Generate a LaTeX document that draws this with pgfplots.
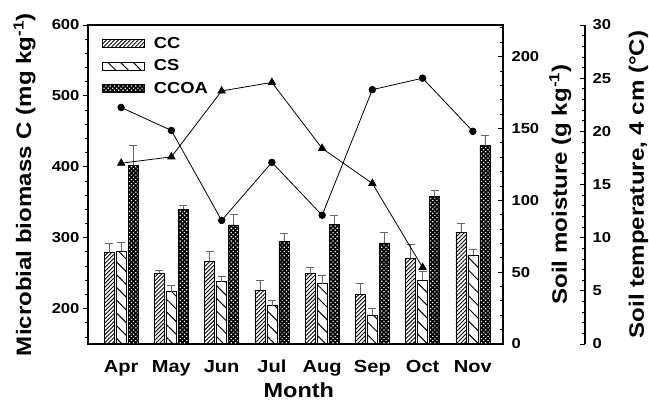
\documentclass[border=0pt]{standalone}
\usepackage{fontspec}
\setmainfont{Liberation Sans}[FakeStretch=1.15]
\usepackage{pgfplots}
\pgfplotsset{compat=1.18}
\usepackage{pgfplotstable}
\usetikzlibrary{patterns,patterns.meta}

\pgfplotstableread{
x cc ccerr cs cserr ccoa ccoaerr
0 279   13.5 281 13   402   28
1 250   4    224 8.5  340   5.7
2 266.5 13.5 238 7    318   14.5
3 226   14   204 8    295   11
4 250   8    235 11.6 319   13
5 220   16   191 9.5  292.5 14.5
6 271   20   240 13   358   8.5
7 307.5 12.5 275 9    430   14
}\bars
\pgfplotstableread{
x m
0 164.6
1 148.6
2 86
3 126.4
4 89.6
5 177
6 185
7 148
}\moist
\pgfplotstableread{
x t
0 17.0
1 17.6
2 23.8
3 24.6
4 18.4
5 15.1
6 7.2
}\temp

\newcommand{\tickfont}{\bfseries\fontsize{14.5}{16}\selectfont}
\newcommand{\labfont}{\bfseries\fontsize{21}{24}\selectfont}

\begin{document}
\begin{tikzpicture}
\useasboundingbox (-88bp,-56bp) rectangle (561bp,344bp);
\pgfplotsset{
  base/.style={scale only axis, width=415bp, height=319bp,
    xmin=-0.66, xmax=7.6,
    /pgf/number format/assume math mode=true,
    axis line style={line width=1.4bp},
    every tick/.style={black, line width=0.8bp},
    major tick length=5bp, minor tick length=3bp,
    yticklabel style={font=\tickfont},
  },
  barimg/.style={legend image code/.code={\draw[##1] (0bp,-4bp) rectangle (42bp,4bp);}},
  errs/.style={error bars/.cd, y dir=plus, y explicit, error mark=|,
    error bar style={line width=0.7bp, black!60},
    error mark options={mark size=4bp, line width=0.7bp, black!60}},
}
\begin{axis}[base,
  ybar=2bp, bar width=10bp,
  ymin=150, ymax=600,
  ytick={200,300,400,500,600},
  minor ytick={160,180,...,580},
  ytick pos=left, tick align=outside,
  xtick={0,...,7},
  xticklabels={Apr,May,Jun,Jul,Aug,Sep,Oct,Nov},
  xtick pos=bottom,
  x tick style={draw=none},
  xticklabel style={font=\bfseries\fontsize{17.5}{20}\selectfont, anchor=base, yshift=-23bp},
  xlabel={Month},
  every axis x label/.style={at={(axis description cs:0.508,0)}, anchor=base, yshift=-53bp, font=\bfseries\fontsize{20.5}{24}\selectfont},
  ylabel={Microbial biomass C (mg kg\textsuperscript{-1})},
  every axis y label/.style={at={(axis description cs:-0.137,0.5)}, rotate=90, anchor=base, font=\labfont},
  legend style={draw=none, fill=none, at={(axis description cs:0,1)}, anchor=north west,
    xshift=11bp, yshift=-8bp, font=\bfseries\fontsize{16}{19}\selectfont, row sep=6bp,
    /tikz/every odd column/.append style={column sep=7bp}},
  legend cell align=left,
]
\addplot[draw=black, line width=0.7bp,
  pattern={Lines[angle=45,distance=2.8bp,line width=0.9bp]}, barimg, errs]
  table[x=x, y=cc, y error=ccerr] {\bars};
\addlegendentry{CC}
\addplot[draw=black, line width=0.7bp,
  pattern={Lines[angle=-45,distance=9bp,line width=1bp]}, barimg, errs]
  table[x=x, y=cs, y error=cserr] {\bars};
\addlegendentry{CS}
\addplot[draw=black, line width=0.7bp,
  fill=black, postaction={pattern={Dots[distance=3bp,radius=0.85bp,angle=45]}, pattern color=white}, barimg, errs]
  table[x=x, y=ccoa, y error=ccoaerr] {\bars};
\addlegendentry{CCOA}
\end{axis}

\begin{axis}[base,
  ymin=0, ymax=222,
  axis y line*=right, axis x line=none,
  ytick={0,50,...,200}, minor ytick={10,20,...,220},
  tick align=inside,
  ylabel={Soil moisture (g kg\textsuperscript{-1})},
  every axis y label/.style={at={(axis description cs:1.154,0.5)}, rotate=90, anchor=base, font=\labfont},
  yticklabel style={xshift=5bp},
  clip=false,
]
\addplot[black, line width=0.8bp, mark=*, mark size=3.3bp] table[x=x, y=m] {\moist};
\end{axis}

\begin{axis}[base,
  at={(82bp,0)},
  xmin=0.972, xmax=9.232,
  ymin=0, ymax=30,
  axis y line*=right, axis x line=none,
  ytick={0,5,...,30}, minor ytick={1,...,29},
  tick align=inside,
  ylabel={Soil temperature, 4 cm (°C)},
  every axis y label/.style={at={(axis description cs:1.142,0.5)}, rotate=90, anchor=base, font=\labfont},
  yticklabel style={xshift=4bp},
  clip=false,
]
\addplot[black, line width=0.8bp, mark=triangle*, mark size=4.2bp] table[x=x, y=t] {\temp};
\end{axis}
\end{tikzpicture}
\end{document}
